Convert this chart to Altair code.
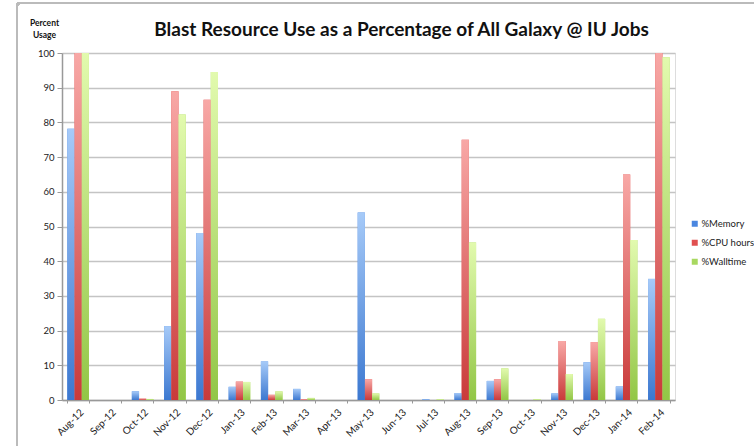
import altair as alt
import pandas as pd

months = ["Aug-12", "Sep-12", "Oct-12", "Nov-12", "Dec-12", "Jan-13", "Feb-13", "Mar-13",
          "Apr-13", "May-13", "Jun-13", "Jul-13", "Aug-13", "Sep-13", "Oct-13", "Nov-13",
          "Dec-13", "Jan-14", "Feb-14"]
series = ["%Memory", "%CPU hours", "%Walltime"]
memory = [78.2, 0, 2.5, 21.3, 48.1, 3.8, 11.1, 3.2, 0, 54.0, 0, 0.2, 2.0, 5.5, 0, 1.9, 10.9, 3.9, 34.9]
cpu = [100, 0, 0.4, 89.0, 86.5, 5.3, 1.5, 0.2, 0, 6.0, 0, 0, 75.0, 6.0, 0, 17.0, 16.7, 65.0, 100]
wall = [100, 0, 0.3, 82.3, 94.5, 5.2, 2.5, 0.6, 0, 1.9, 0, 0.2, 45.4, 9.1, 0.2, 7.5, 23.4, 46.1, 98.8]

solid = ["#4A86E0", "#E05050", "#A8D860"]
grads = [("#A6CAF8", "#3C78D0"), ("#F8A8A6", "#C93A3A"), ("#E2FAAE", "#92C646")]

rows = []
for s, vals in zip(series, [memory, cpu, wall]):
    for m, v in zip(months, vals):
        rows.append({"month": m, "series": s, "value": v})
df = pd.DataFrame(rows)

FONT = "Lato"
W, H = 613, 347
LEFT, TOP = 62, 53

x_enc = alt.X("month:N", sort=months, title=None,
              scale=alt.Scale(paddingInner=0.33, paddingOuter=0.165),
              axis=alt.Axis(labelAngle=-45, labelFontSize=10, labelFont=FONT, labelColor="#222",
                            tickBand="extent", tickSize=3, tickColor="#999", domainColor="#999",
                            domainWidth=1.5, labelPadding=4, grid=False))
xo_enc = alt.XOffset("series:N", sort=series,
                     scale=alt.Scale(domain=series, paddingInner=0, paddingOuter=0))
y_enc = alt.Y("value:Q", scale=alt.Scale(domain=[0, 100], nice=False),
              axis=alt.Axis(values=list(range(0, 101, 10)), labelFontSize=9.5, labelFont=FONT,
                            labelColor="#222", tickSize=5, tickColor="#999", domainColor="#999",
                            domainWidth=1.5, gridColor="#C4C4C4", gridWidth=1.5,
                            labelPadding=3,
                            title=["Percent", "Usage"], titleAngle=0, titleFont=FONT,
                            titleFontSize=8.5, titleFontWeight="bold", titleColor="#111",
                            titleAlign="center", titleBaseline="top", titleX=-18, titleY=-35,
                            titleLineHeight=12))

base = alt.Chart(df).encode(x=x_enc, xOffset=xo_enc, y=y_enc)

legend_layer = base.mark_bar().encode(
    color=alt.Color("series:N", sort=series,
                    scale=alt.Scale(domain=series, range=solid),
                    legend=alt.Legend(title=None, orient="none", legendX=628, legendY=166,
                                      symbolType="square", symbolSize=36, symbolStrokeWidth=0,
                                      labelFont=FONT, labelFontSize=9.5, labelColor="#222",
                                      rowPadding=8, labelOffset=2))
)

layers = [legend_layer]
for s, (top, bot) in zip(series, grads):
    g = alt.Gradient(gradient="linear", x1=0, y1=0, x2=0, y2=1,
                     stops=[alt.GradientStop(color=top, offset=0),
                            alt.GradientStop(color=bot, offset=1)])
    layers.append(base.transform_filter(alt.datum.series == s).mark_bar(fill=g))

frame = alt.Chart(df).mark_rect(fill="transparent", stroke="#BBBBBB", strokeWidth=2,
                                cornerRadius=3, clip=False).encode(
    x=alt.value(17 - LEFT), x2=alt.value(800), y=alt.value(3 - TOP), y2=alt.value(500)
)

chart = alt.layer(frame, *layers).properties(
    width=W, height=H,
    title=alt.Title("Blast Resource Use as a Percentage of All Galaxy @ IU Jobs",
                    font=FONT, fontSize=19, fontWeight="bold", color="#111",
                    anchor="middle", frame="group", dx=33, offset=-38),
    autosize=alt.AutoSizeParams(type="none"),
    padding={"left": LEFT, "top": TOP, "right": 754 - LEFT - W, "bottom": 446 - TOP - H},
).configure_view(stroke=None).configure(background="white")

chart.save("out.html", embed_options={"renderer": "svg", "actions": False})
